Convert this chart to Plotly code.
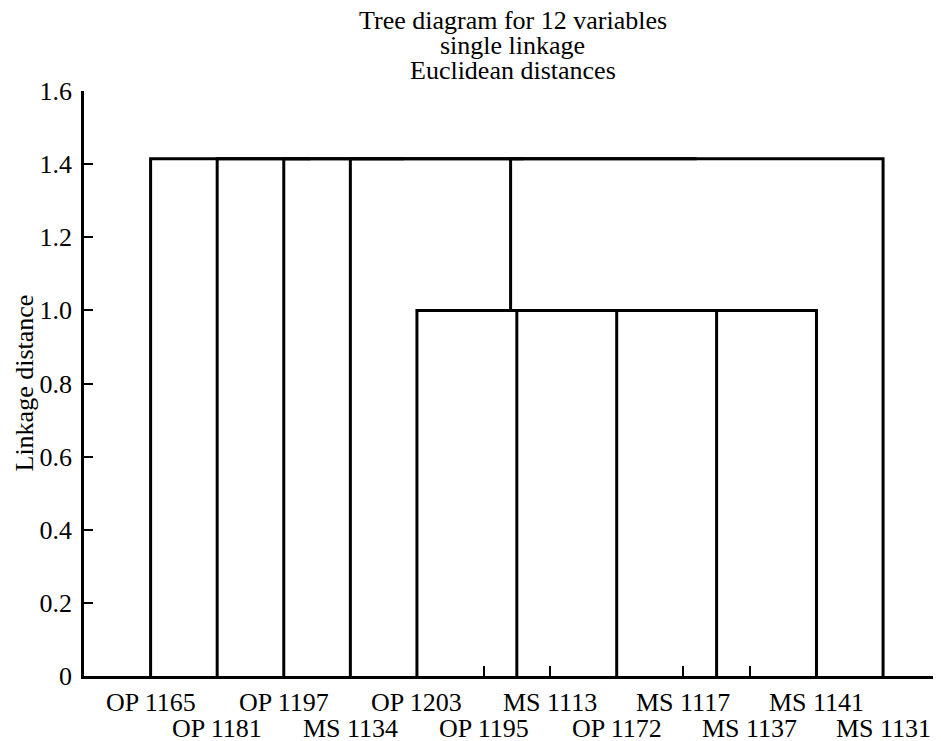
import plotly.graph_objects as go

# ---- data ----
leaf_labels = ["OP 1165", "OP 1181", "OP 1197", "MS 1134", "OP 1203", "OP 1195",
               "MS 1113", "OP 1172", "MS 1117", "MS 1137", "MS 1141", "MS 1131"]
# linkage (left node, right node, linkage distance); nodes >= 12 are merged clusters
merge_left = [5, 8, 13, 7, 12, 4, 17, 3, 2, 1, 0]
merge_right = [6, 9, 10, 14, 15, 16, 11, 18, 19, 20, 21]
merge_height = [0.0, 0.0, 1.0, 1.0, 1.0, 1.0, 1.415, 1.415, 1.415, 1.415, 1.415]

y_ticks = [0, 0.2, 0.4, 0.6, 0.8, 1.0, 1.2, 1.4, 1.6]
y_ticktext = ["0", "0.2", "0.4", "0.6", "0.8", "1.0", "1.2", "1.4", "1.6"]
title_lines = ["Tree diagram for 12 variables", "single linkage", "Euclidean distances"]
y_title = "Linkage distance"

# ---- build dendrogram segments ----
n = len(leaf_labels)
pos = {i: i + 1 for i in range(n)}
hgt = {i: 0.0 for i in range(n)}
xs, ys = [], []
for k, (a, b, h) in enumerate(zip(merge_left, merge_right, merge_height)):
    xa, xb = pos[a], pos[b]
    if h > 0:
        xs += [xa, xa, xb, xb, None]
        ys += [hgt[a], h, h, hgt[b], None]
    pos[n + k] = (xa + xb) / 2
    hgt[n + k] = h

FONT = "Liberation Serif, Times New Roman, serif"
FS = 26

fig = go.Figure()
fig.add_trace(go.Scatter(x=xs, y=ys, mode="lines",
                         line=dict(color="black", width=3),
                         hoverinfo="skip", showlegend=False, cliponaxis=True))

annotations = []
for i, lab in enumerate(leaf_labels):
    annotations.append(dict(x=i + 1, y=0, xref="x", yref="paper", text=lab,
                            showarrow=False, xanchor="center", yanchor="middle",
                            yshift=-26 if i % 2 == 0 else -52,
                            font=dict(family=FONT, size=FS, color="black")))
for j, t in enumerate(title_lines):
    annotations.append(dict(x=0.5, y=1, xref="paper", yref="paper", text=t,
                            showarrow=False, xanchor="center", yanchor="middle",
                            yshift=71 - 25 * j,
                            font=dict(family=FONT, size=FS, color="black")))
annotations.append(dict(x=0, y=0.5, xref="paper", yref="paper", text=y_title,
                        showarrow=False, textangle=-90, xanchor="center",
                        yanchor="middle", xshift=-60,
                        font=dict(family=FONT, size=FS, color="black")))

# page body has an 8px default margin -> compensate
fig.update_layout(
    width=933, height=733,
    margin=dict(l=76, r=0, t=83, b=65),
    plot_bgcolor="white", paper_bgcolor="white",
    font=dict(family=FONT, size=FS, color="black"),
    annotations=annotations,
    xaxis=dict(range=[0, 12.87], showgrid=False, zeroline=False,
               showline=True, linecolor="black", linewidth=2.5,
               tickmode="array", tickvals=list(range(1, n + 1)),
               ticks="inside", ticklen=10, tickwidth=2, tickcolor="black",
               showticklabels=False),
    yaxis=dict(range=[0, 1.6], showgrid=False, zeroline=False,
               showline=True, linecolor="black", linewidth=2.5,
               tickmode="array", tickvals=y_ticks, ticktext=y_ticktext,
               ticks="inside", ticklen=9, tickwidth=2, tickcolor="black",
               ticklabelstandoff=4,
               tickfont=dict(family=FONT, size=FS, color="black")),
)

fig.write_html("out.html")
